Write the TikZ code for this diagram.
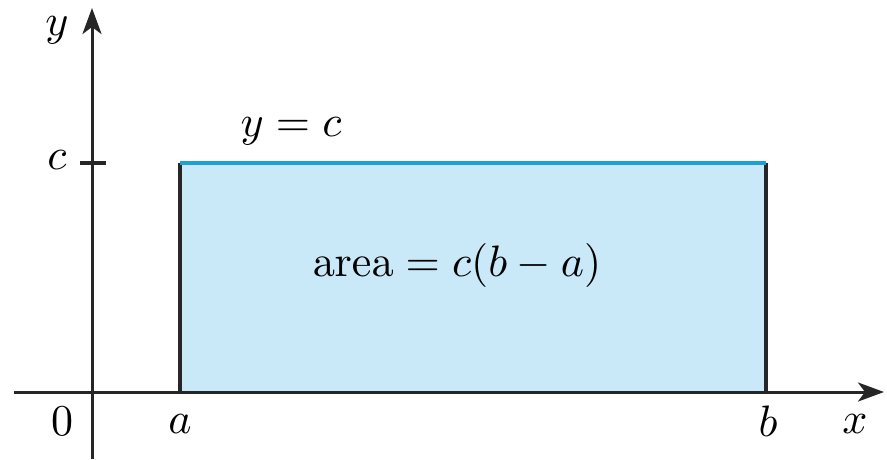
\documentclass[tikz,border=0pt]{standalone}
\usetikzlibrary{arrows.meta}
\definecolor{areafill}{HTML}{C9E9F8}
\definecolor{topline}{HTML}{1BA1D9}
\tikzset{
  axisline/.style={line width=3pt, draw=black!85, -{Stealth[length=26pt,width=19pt,inset=7pt]}},
  sideline/.style={line width=3.2pt, draw=black!85},
  lbl/.style={scale=4.4, inner sep=0pt},
}
\begin{document}
\begin{tikzpicture}[x=1pt,y=-1pt]
\useasboundingbox (0,0) rectangle (887,459);
\coordinate (A0) at (180,392);
\coordinate (A1) at (180,163);
\coordinate (B0) at (766,392);
\coordinate (B1) at (766,163);
\coordinate (xs) at (14,392);
\coordinate (xe) at (884,392);
\coordinate (ys) at (92,459);
\coordinate (ye) at (92,8);
\coordinate (tl) at (80,163);
\coordinate (tr) at (106,163);
\fill[areafill] (A0) rectangle (B1);
\draw[sideline] (A0) -- (A1);
\draw[sideline] (B0) -- (B1);
\draw[line width=4pt, topline] (A1) -- (B1);
\draw[axisline] (xs) -- (xe);
\draw[axisline] (ys) -- (ye);
\draw[sideline] (tl) -- (tr);
\node[lbl] (ly) at (57,30) {$y$};
\node[lbl] (lc) at (57,160) {$c$};
\node[lbl] (lyc) at (291,131) {$y = c$};
\node[lbl] (larea) at (457,265) {$\mathrm{area} = c(b - a)$};
\node[lbl] (l0) at (62,421) {$0$};
\node[lbl] (la) at (180,424) {$a$};
\node[lbl] (lb) at (768,421) {$b$};
\node[lbl] (lx) at (855,424) {$x$};
\end{tikzpicture}
\end{document}
